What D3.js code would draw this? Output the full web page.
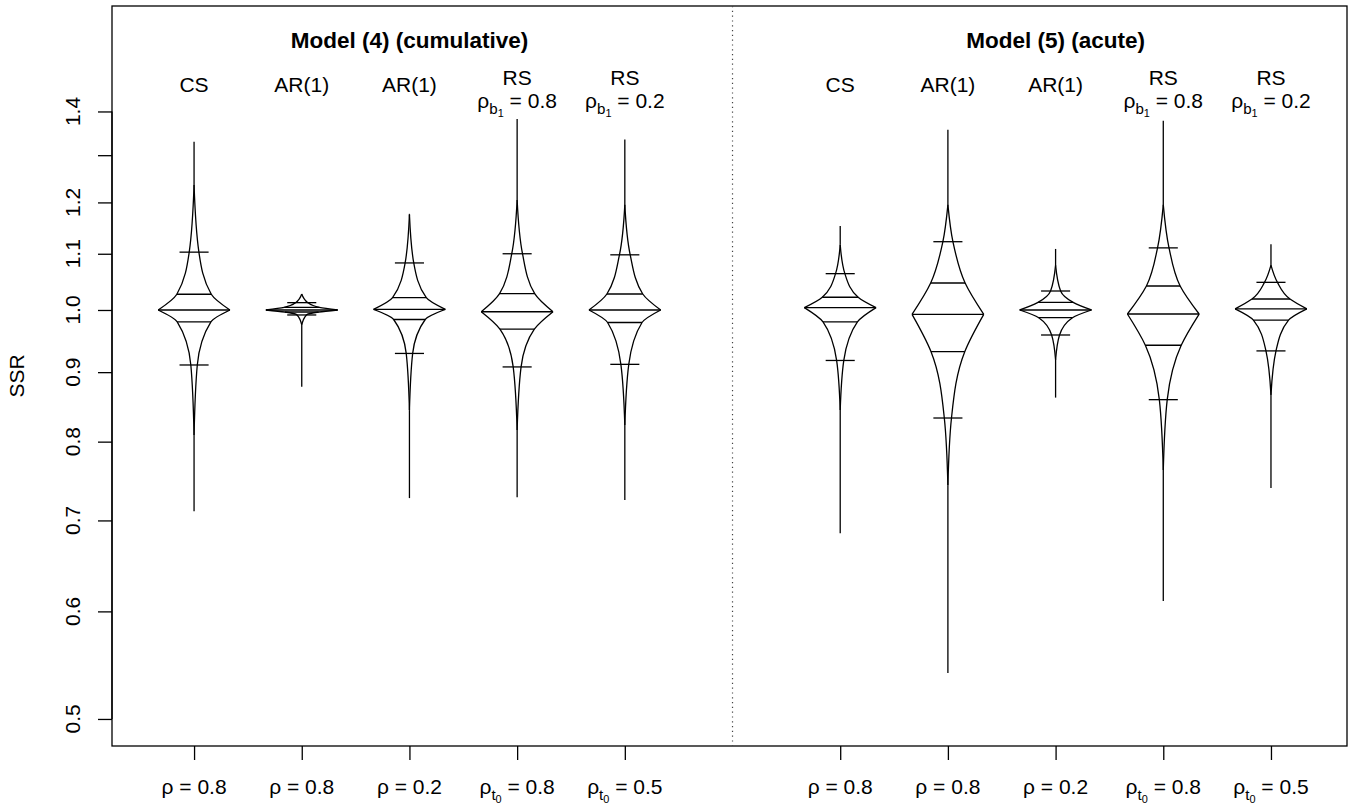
<!DOCTYPE html>
<html><head><meta charset="utf-8">
<script src="https://cdn.jsdelivr.net/npm/d3@7"></script>
<style>
html,body{margin:0;padding:0;background:#fff;}
svg text{font-family:"Liberation Sans",Arial,Helvetica,sans-serif;fill:#000;}
</style></head>
<body>
<svg id="c" width="1356" height="808"></svg>
<script>
// ---- data ----
const positions = [1, 2, 3, 4, 5, 7, 8, 9, 10, 11];
const structLabels = ["CS", "AR(1)", "AR(1)", "RS", "RS", "CS", "AR(1)", "AR(1)", "RS", "RS"];
const structSub = [null, null, null, "0.8", "0.2", null, null, null, "0.8", "0.2"];   // rho_b1 values
const bottomKind = ["rho", "rho", "rho", "rhot0", "rhot0", "rho", "rho", "rho", "rhot0", "rhot0"];
const bottomValue = ["0.8", "0.8", "0.2", "0.8", "0.5", "0.8", "0.8", "0.2", "0.8", "0.5"];
const panelTitles = ["Model (4) (cumulative)", "Model (5) (acute)"];
const panelCenters = [3, 9];

// quantile-type summaries per violin
const vMax   = [1.330, 1.0275, 1.177, 1.382, 1.335, 1.153, 1.357, 1.109, 1.378, 1.118];
const vTopEnd= [1.236, 1.0275, 1.175, 1.205, 1.195, 1.117, 1.195, 1.079, 1.195, 1.079];
const vHi    = [1.103, 1.0125, 1.083, 1.100, 1.098, 1.0635, 1.1227, 1.0327, 1.111, 1.048];
const vQ3    = [1.027, 1.0045, 1.021, 1.028, 1.0275, 1.0218, 1.0468, 1.0131, 1.0415, 1.0188];
const vMed   = [1.000, 1.000, 1.001, 0.997, 1.000, 1.004, 0.9927, 1.000, 0.9932, 1.002];
const vQ1    = [0.980, 0.9966, 0.984, 0.968, 0.979, 0.980, 0.9318, 0.987, 0.942, 0.983];
const vLo    = [0.911, 0.9916, 0.929, 0.908, 0.912, 0.918, 0.8327, 0.9585, 0.859, 0.933];
const vBotEnd= [0.809, 0.975, 0.844, 0.816, 0.823, 0.844, 0.743, 0.919, 0.7626, 0.866];
const vMin   = [0.711, 0.878, 0.727, 0.728, 0.7247, 0.685, 0.5404, 0.862, 0.6107, 0.7396];
// relative half-widths of the outline at those levels (1 = widest, at the median)
const wHi = [0.135, 0.17, 0.12, 0.15, 0.15, 0.13, 0.14, 0.14, 0.16, 0.18];
const wQ3 = [0.48, 0.49, 0.47, 0.49, 0.50, 0.50, 0.48, 0.49, 0.47, 0.53];
const wQ1 = [0.47, 0.47, 0.44, 0.48, 0.48, 0.48, 0.47, 0.47, 0.50, 0.49];
const wLo = [0.09, 0.13, 0.09, 0.11, 0.11, 0.10, 0.10, 0.11, 0.11, 0.14];

const yTicks = [0.5, 0.6, 0.7, 0.8, 0.9, 1.0, 1.1, 1.2, 1.3, 1.4];
const yTickLabels = ["0.5", "0.6", "0.7", "0.8", "0.9", "1.0", "1.1", "1.2", "", "1.4"];
const yTitle = "SSR";

// ---- layout ----
const svg = d3.select("#c");
const L = 112, R = 1347, T = 6, B = 746;
const x = d3.scaleLinear().domain([0.238, 11.706]).range([L, R]);
const y = d3.scaleLog().domain([0.4776, 1.674]).range([B, T]);
const halfW = 0.333;   // widest half-width in x units
const barHalf = 0.135; // crossbar half-width
const FS = 21;
const lw = 1.3;

// box
svg.append("rect").attr("x", L).attr("y", T).attr("width", R - L).attr("height", B - T)
  .attr("fill", "none").attr("stroke", "#000").attr("stroke-width", lw);

// divider
svg.append("line").attr("x1", x(6)).attr("x2", x(6)).attr("y1", T).attr("y2", B)
  .attr("stroke", "#444").attr("stroke-width", 1.2).attr("stroke-dasharray", "1.2,3.6");

// y axis
const yAxis = d3.axisLeft(y).tickValues(yTicks).tickSize(14).tickFormat("");
const ga = svg.append("g").attr("transform", `translate(${L},0)`).call(yAxis);
ga.select(".domain").attr("d", `M0,${y(0.5)}V${y(1.4)}`).attr("stroke-width", lw);
ga.selectAll(".tick line").attr("stroke-width", lw);
yTicks.forEach((t, i) => {
  svg.append("text").attr("transform", `translate(80,${y(t)}) rotate(-90)`)
    .attr("text-anchor", "middle").attr("font-size", FS).text(yTickLabels[i]);
});
svg.append("text").attr("transform", `translate(24,${(T + B) / 2}) rotate(-90)`)
  .attr("text-anchor", "middle").attr("font-size", FS).text(yTitle);

// x axis ticks
const xAxis = d3.axisBottom(x).tickValues(positions).tickSize(14).tickFormat("");
const gx = svg.append("g").attr("transform", `translate(0,${B})`).call(xAxis);
gx.select(".domain").remove();
gx.selectAll(".tick line").attr("stroke-width", lw);

// math-ish label helper
function mathLabel(cx, by, base, sub1, sub2, rest) {
  const t = svg.append("text").attr("x", cx).attr("y", by).attr("text-anchor", "middle").attr("font-size", FS);
  t.append("tspan").text(base);
  if (sub1) {
    t.append("tspan").attr("font-size", FS * 0.72).attr("dy", FS * 0.28).text(sub1);
    t.append("tspan").attr("font-size", FS * 0.52).attr("dy", FS * 0.16).text(sub2);
    t.append("tspan").attr("dy", -FS * 0.44).text(rest);
  } else {
    t.append("tspan").text(rest);
  }
}

// titles
panelTitles.forEach((s, i) => {
  svg.append("text").attr("x", x(panelCenters[i])).attr("y", 48).attr("text-anchor", "middle")
    .attr("font-size", 22.5).attr("font-weight", "bold").text(s);
});

positions.forEach((p, i) => {
  const cx = x(p);
  if (structSub[i]) {
    svg.append("text").attr("x", cx).attr("y", 85).attr("text-anchor", "middle").attr("font-size", FS).text(structLabels[i]);
    mathLabel(cx, 108, "ρ", "b", "1", " = " + structSub[i]);
  } else {
    svg.append("text").attr("x", cx).attr("y", 92).attr("text-anchor", "middle").attr("font-size", FS).text(structLabels[i]);
  }
  if (bottomKind[i] === "rho") mathLabel(cx, 794, "ρ = " + bottomValue[i], null, null, "");
  else mathLabel(cx, 794, "ρ", "t", "0", " = " + bottomValue[i]);
});

// violins
const seg = d3.line().x(d => d[0]).y(d => d[1]).curve(d3.curveMonotoneY);
const g = svg.append("g").attr("fill", "none").attr("stroke", "#000").attr("stroke-width", lw);
positions.forEach((p, i) => {
  const cx = x(p);
  const h = x(p + halfW) - cx;
  const bh = x(p + barHalf) - cx;
  const up = [[vTopEnd[i], 0], [vHi[i], wHi[i]], [vQ3[i], wQ3[i]], [vMed[i], 1]];
  const dn = [[vMed[i], 1], [vQ1[i], wQ1[i]], [vLo[i], wLo[i]], [vBotEnd[i], 0]];
  [1, -1].forEach(s => {
    g.append("path").attr("d", seg(up.map(d => [cx + s * d[1] * h, y(d[0])])));
    g.append("path").attr("d", seg(dn.map(d => [cx + s * d[1] * h, y(d[0])])));
  });
  g.append("line").attr("x1", cx).attr("x2", cx).attr("y1", y(vMax[i])).attr("y2", y(vTopEnd[i]));
  g.append("line").attr("x1", cx).attr("x2", cx).attr("y1", y(vBotEnd[i])).attr("y2", y(vMin[i]));
  g.append("line").attr("x1", cx - h).attr("x2", cx + h).attr("y1", y(vMed[i])).attr("y2", y(vMed[i]));
  g.append("line").attr("x1", cx - wQ3[i] * h).attr("x2", cx + wQ3[i] * h).attr("y1", y(vQ3[i])).attr("y2", y(vQ3[i]));
  g.append("line").attr("x1", cx - wQ1[i] * h).attr("x2", cx + wQ1[i] * h).attr("y1", y(vQ1[i])).attr("y2", y(vQ1[i]));
  g.append("line").attr("x1", cx - bh).attr("x2", cx + bh).attr("y1", y(vHi[i])).attr("y2", y(vHi[i]));
  g.append("line").attr("x1", cx - bh).attr("x2", cx + bh).attr("y1", y(vLo[i])).attr("y2", y(vLo[i]));
});
</script>
</body></html>
